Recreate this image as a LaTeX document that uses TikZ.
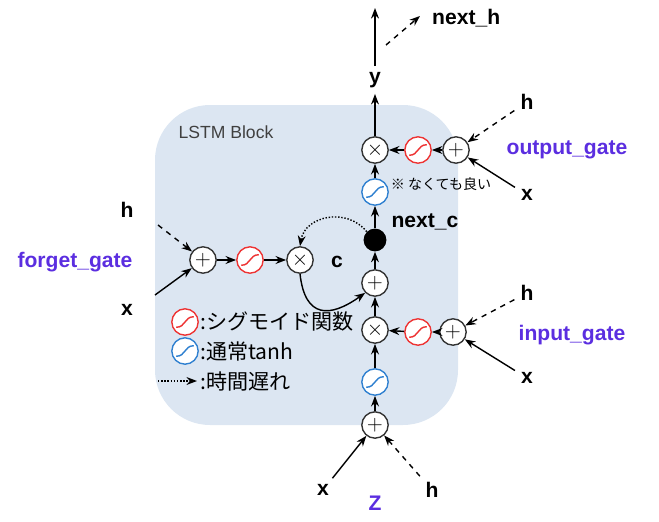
\documentclass[tikz,border=0pt]{standalone}
\usepackage{fontspec}
\setmainfont{Liberation Sans}
\newfontfamily\cjk{Noto Sans CJK JP}
\usetikzlibrary{arrows.meta}
\definecolor{blockbg}{HTML}{DCE6F2}
\definecolor{gatecol}{HTML}{5B2EE0}
\definecolor{sigred}{HTML}{EE3333}
\definecolor{tanhblue}{HTML}{2F80D0}
\tikzset{
  op/.style={circle,draw=black!80,thick,fill=white,minimum size=15pt,inner sep=0pt,font=\large},
  sig/.style={circle,draw=#1,thick,fill=white,minimum size=15pt,inner sep=0pt,
    path picture={\draw[#1,thick] (path picture bounding box.center) ++(-5pt,-3pt)
      .. controls +(5.5pt,0pt) and +(-5.5pt,0pt) .. ++(10pt,6pt);}},
  lbl/.style={font=\bfseries\large},
  gate/.style={font=\bfseries\large,text=gatecol},
  arr/.style={-{Stealth[length=6pt]},thick},
}
\begin{document}
\begin{tikzpicture}[x=0.02cm,y=-0.02cm]
\useasboundingbox (0,0) rectangle (659,521);
\fill[blockbg,rounded corners=1.1cm] (155,105) rectangle (458,425);
\node[font=\normalsize,text=black!75] (title) at (226,132) {LSTM Block};

% output part
\node[op] (mo) at (375,150) {$\times$};
\node[sig=sigred] (so) at (418,150) {};
\node[op] (po) at (456,150) {$+$};
\node[lbl] (ho) at (527,102) {h};
\node[lbl] (xo) at (527,195) {x};
\node[gate] (go) at (567,150) {output\_gate};
\node[sig=tanhblue] (to) at (375,192) {};
\node[font=\cjk\footnotesize] (note) at (441,184) {※ なくても良い};

% cell
\node[circle,fill=black,minimum size=13pt,inner sep=0pt] (nc) at (375,240) {};
\node[lbl] (ncl) at (425,222) {next\_c};
\node[op] (pc) at (375,283) {$+$};

% input part
\node[op] (mi) at (375,330) {$\times$};
\node[sig=sigred] (si) at (418,332) {};
\node[op] (pi) at (453,332) {$+$};
\node[lbl] (hi) at (527,293) {h};
\node[lbl] (xi) at (527,378) {x};
\node[gate] (gi) at (572,335) {input\_gate};
\node[sig=tanhblue] (ti) at (375,382) {};
\node[op] (pz) at (375,425) {$+$};
\node[lbl] (xz) at (323,490) {x};
\node[lbl] (hz) at (432,490) {h};
\node[gate] (gz) at (375,503) {Z};

% forget part
\node[op] (pf) at (203,260) {$+$};
\node[sig=sigred] (sf) at (250,260) {};
\node[op] (mf) at (300,260) {$\times$};
\node[lbl] (cl) at (337,262) {c};
\node[lbl] (hf) at (127,210) {h};
\node[lbl] (xf) at (127,310) {x};
\node[gate] (gf) at (75,262) {forget\_gate};
\coordinate (hfs) at (158,225);
\coordinate (xfs) at (155,295);

% output
\node[lbl] (y) at (375,80) {y};
\coordinate (ytop) at (375,8);
\coordinate (nhs) at (386,45);
\coordinate (nhe) at (420,16);
\node[lbl,anchor=west] (nh) at (426,18) {next\_h};

% legend
\node[sig=sigred] (lg1) at (185,322) {};
\node[anchor=west,font=\cjk\large] (lt1) at (194,322) {:シグモイド関数};
\node[sig=tanhblue] (lg2) at (185,351) {};
\node[anchor=west,font=\cjk\large] (lt2) at (194,351) {:通常tanh};
\coordinate (lg3a) at (158,381);
\coordinate (lg3b) at (197,381);
\node[anchor=west,font=\cjk\large] (lt3) at (194,381) {:時間遅れ};
\draw[arr,densely dotted] (lg3a) -- (lg3b);

% connectors
\draw[arr] (pz) -- (ti);
\draw[arr] (ti) -- (mi);
\draw[arr] (mi) -- (pc);
\draw[arr] (pc) -- (nc);
\draw[arr] (nc) -- (to);
\draw[arr] (to) -- (mo);
\draw[arr] (mo) -- (y);
\draw[arr,very thick] (y) -- (ytop);
\draw[arr,dashed] (nhs) -- (nhe);
\draw[arr] (po) -- (so);
\draw[arr] (so) -- (mo);
\draw[arr] (pi) -- (si);
\draw[arr] (si) -- (mi);
\draw[arr] (pf) -- (sf);
\draw[arr] (sf) -- (mf);
\draw[arr,dashed] (ho) -- (po);
\draw[arr] (xo) -- (po);
\draw[arr,dashed] (hi) -- (pi);
\draw[arr] (xi) -- (pi);
\draw[arr] (xz) -- (pz);
\draw[arr,dashed] (hz) -- (pz);
\draw[arr,dashed] (hfs) -- (pf);
\draw[arr] (xfs) -- (pf);
\draw[arr] (mf.south) .. controls +(5,45) and +(-35,25) .. (pc.south west);
\draw[arr,densely dotted] (nc.north west) .. controls +(-20,-25) and +(5,-30) .. (mf.north);
\end{tikzpicture}
\end{document}
